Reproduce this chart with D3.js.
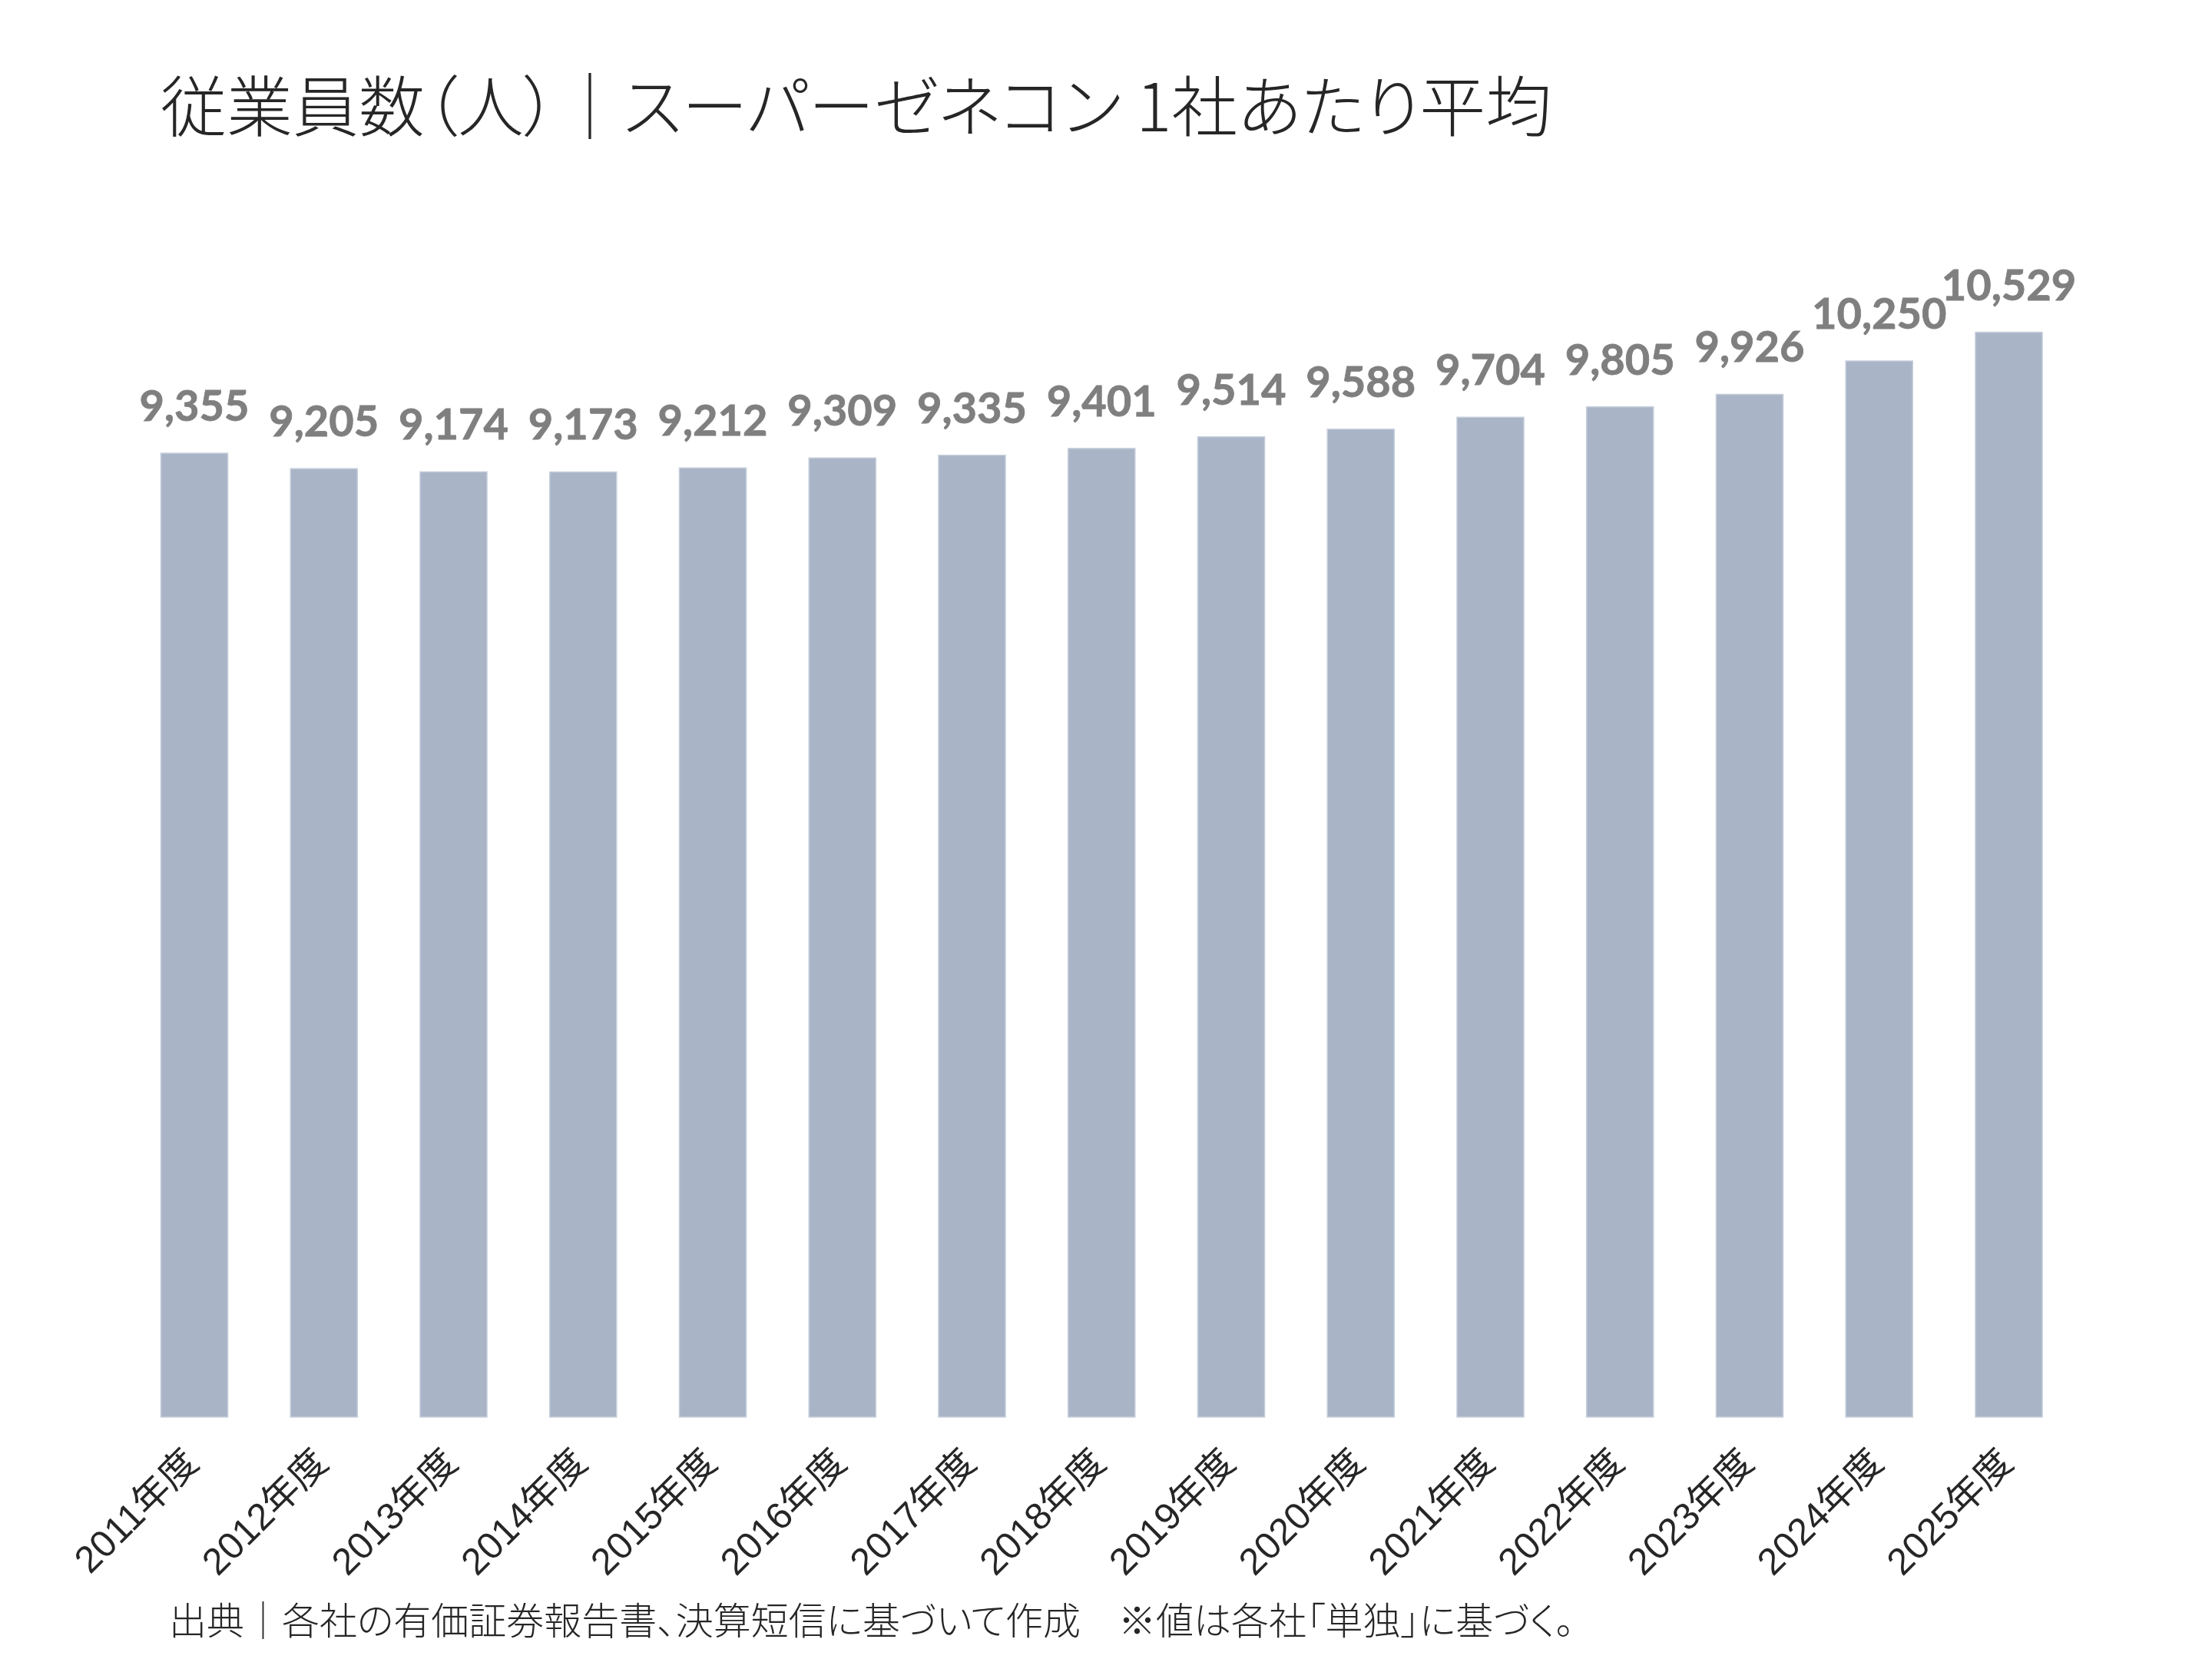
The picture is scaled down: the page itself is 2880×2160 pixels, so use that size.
<!DOCTYPE html>
<html>
<head>
<meta charset="utf-8">
<script src="https://cdn.jsdelivr.net/npm/d3@7/dist/d3.min.js"></script>
<style>
  html, body { margin: 0; padding: 0; background: #ffffff; }
  svg { display: block; }
</style>
</head>
<body>
<svg id="chart" width="2880" height="2160"></svg>
<script>
const categories = ["2011年度","2012年度","2013年度","2014年度","2015年度","2016年度","2017年度","2018年度","2019年度","2020年度","2021年度","2022年度","2023年度","2024年度","2025年度"];
const employees = [9355, 9205, 9174, 9173, 9212, 9309, 9335, 9401, 9514, 9588, 9704, 9805, 9926, 10250, 10529];
const titleText = "従業員数（人）｜スーパーゼネコン 1社あたり平均";
const sourceText = "出典｜各社の有価証券報告書、決算短信に基づいて作成　※値は各社「単独」に基づく。";

const svg = d3.select("#chart");
const W = 2880, H = 2160;
svg.append("rect").attr("width", W).attr("height", H).attr("fill", "#ffffff");

const x = d3.scaleBand()
  .domain(categories)
  .range([127.8, 2740.7])
  .paddingInner(0.484)
  .paddingOuter(0.484);

const y = d3.scaleLinear()
  .domain([0, 11000])
  .range([1845, 369.4]);

const data = categories.map((c, i) => ({ cat: c, v: employees[i] }));

// Title
svg.append("text")
  .attr("x", 209)
  .attr("y", 171)
  .attr("font-family", "'Noto Sans CJK JP', sans-serif")
  .attr("font-size", 86)
  .attr("font-weight", 300)
  .attr("fill", "#262626")
  .style("font-feature-settings", "'palt'")
  .text(titleText);

// Bars
svg.append("g").selectAll("rect")
  .data(data)
  .join("rect")
  .attr("x", d => x(d.cat))
  .attr("y", d => y(d.v))
  .attr("width", x.bandwidth())
  .attr("height", d => y(0) - y(d.v))
  .attr("fill", "#a9b5c7")
  .attr("stroke", "#c6cedb")
  .attr("stroke-width", 1.5);

// Value labels
svg.append("g").selectAll("text")
  .data(data)
  .join("text")
  .attr("x", d => x(d.cat) + x.bandwidth() / 2)
  .attr("y", d => y(d.v) - 42)
  .attr("text-anchor", "middle")
  .attr("font-family", "Lato, 'Open Sans', sans-serif")
  .attr("font-weight", 700)
  .attr("font-size", 56)
  .attr("fill", "#7f7f7f")
  .attr("stroke", "#7f7f7f")
  .attr("stroke-width", 0.8)
  .text(d => d3.format(",")(d.v));

// X axis
const xAxis = d3.axisBottom(x).tickSize(0).tickPadding(0);
const gx = svg.append("g")
  .attr("transform", `translate(0, ${y(0)})`)
  .call(xAxis);
gx.select(".domain").remove();
gx.selectAll(".tick text")
  .attr("font-family", "'Liberation Sans', 'Noto Sans CJK JP', sans-serif")
  .attr("font-size", 49)
  .attr("fill", "#262626")
  .attr("text-anchor", "end")
  .attr("dy", null)
  .attr("y", null)
  .attr("transform", "translate(8, 62) rotate(-45)");

// Source note
svg.append("text")
  .attr("x", 220)
  .attr("y", 2128)
  .attr("font-family", "'Noto Sans CJK JP', sans-serif")
  .attr("font-size", 49)
  .attr("font-weight", 300)
  .attr("fill", "#262626")
  .style("font-feature-settings", "'palt'")
  .text(sourceText);
</script>
</body>
</html>
